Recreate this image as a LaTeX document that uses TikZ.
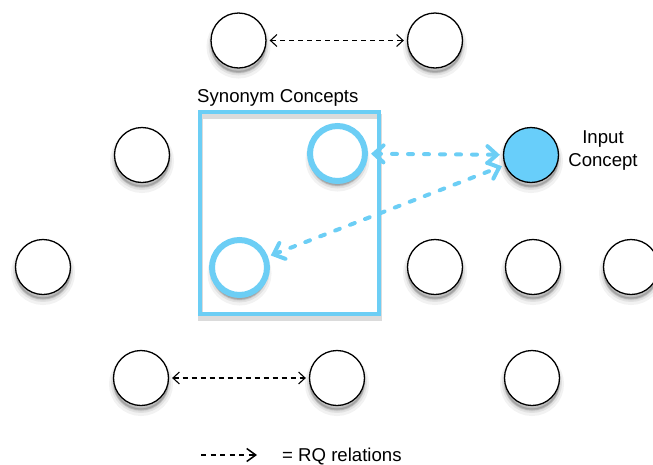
\documentclass[tikz,border=0pt]{standalone}
\usepackage{fontspec}
\setmainfont{Liberation Sans}
\usetikzlibrary{arrows.meta}
\definecolor{skyline}{RGB}{108,206,245}
\definecolor{skyfill}{RGB}{104,206,250}
\begin{document}
\begin{tikzpicture}[x=1pt,y=-1pt,
  font=\fontsize{18.6}{23}\selectfont,
  % soft shadow built from a few translucent layers under each circle
  soft/.style={
    preaction={draw=black,line width=9pt,draw opacity=0.05,fill=black,fill opacity=0.05,transform canvas={yshift=-6pt}},
    preaction={draw=black,line width=5pt,draw opacity=0.07,fill=black,fill opacity=0.07,transform canvas={yshift=-5pt}},
    preaction={draw=black,line width=2pt,draw opacity=0.1,fill=black,fill opacity=0.1,transform canvas={yshift=-4pt}}},
  concept/.style={circle,draw=black,line width=1.3pt,fill=white,minimum size=55pt,inner sep=0pt,soft},
  synconcept/.style={circle,draw=skyline,line width=6pt,fill=white,minimum size=55pt,inner sep=0pt,soft},
  inputconcept/.style={concept,fill=skyfill},
  rq/.style={black,line width=1.1pt,dash pattern=on 5pt off 4pt,
    arrows={Straight Barb[length=6.5pt,width=12pt]-Straight Barb[length=6.5pt,width=12pt]}},
  rqone/.style={black,line width=1.5pt,dash pattern=on 5pt off 4.5pt,
    arrows={-Straight Barb[length=9pt,width=13pt]}},
  synarrow/.style={skyline,line width=4pt,line cap=round,dash pattern=on 5pt off 11pt,
    arrows={Straight Barb[length=9.5pt,width=17pt,line cap=round]-Straight Barb[length=9.5pt,width=17pt,line cap=round]}}
]
\useasboundingbox (0,0) rectangle (653,464);

% synonym group frame with a faint shadow under its stroke
\draw[black!35,line width=5pt,opacity=0.4] (200,116) rectangle (379,318);
\draw[skyline,line width=4.5pt] (200,112) rectangle (379,314);
\node[anchor=base west,inner sep=0pt] (synlabel) at (197,102) {Synonym Concepts};

% concepts
\node[concept] (t1) at (238.5,40.5) {};
\node[concept] (t2) at (435,40.5) {};
\node[concept] (a1) at (142,155) {};
\node[synconcept] (s1) at (337.5,153.5) {};
\node[inputconcept] (in) at (531,155) {};
\node[concept] (b1) at (43,267) {};
\node[synconcept] (s2) at (239.5,267.5) {};
\node[concept] (b3) at (435,267) {};
\node[concept] (b4) at (533,267) {};
\node[concept] (b5) at (631,267) {};
\node[concept] (c1) at (141,378) {};
\node[concept] (c2) at (337,378) {};
\node[concept] (c3) at (532,378) {};

\node[align=center,inner sep=0pt] (inlabel) at (603,151) {Input\\Concept};

% RQ relations
\draw[rq,shorten <=3pt,shorten >=3pt] (t1) -- (t2);
\draw[rq,shorten <=3pt,shorten >=3pt] (c1) -- (c2);

% synonym links
\draw[synarrow,shorten <=3pt,shorten >=3pt] (s1) -- (in);
\draw[synarrow,shorten <=3pt,shorten >=3pt] (s2) -- (in);

% legend
\coordinate (legA) at (201,455);
\coordinate (legB) at (257,455);
\draw[rqone] (legA) -- (legB);
\node[anchor=base west,inner sep=0pt] (legtext) at (282,461) {= RQ relations};
\end{tikzpicture}
\end{document}
